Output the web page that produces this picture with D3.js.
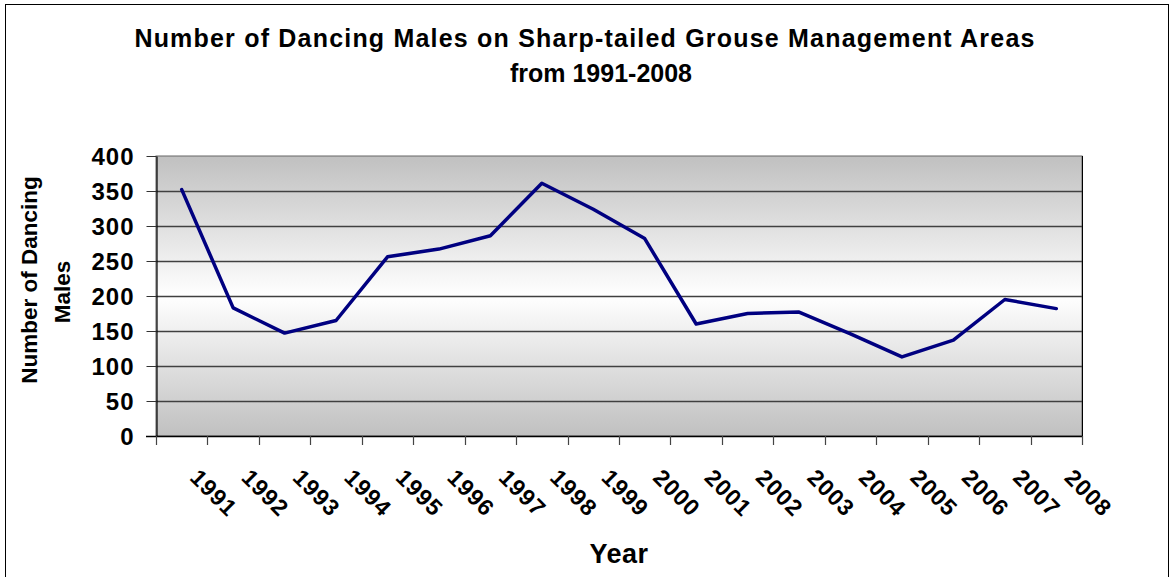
<!DOCTYPE html>
<html>
<head>
<meta charset="utf-8">
<script src="https://cdn.jsdelivr.net/npm/d3@7"></script>
<style>
  body { margin: 0; background: #fff; }
  svg { display: block; font-family: "Liberation Sans", Arial, sans-serif; }
</style>
</head>
<body>
<svg id="chart"></svg>
<script>
// data
const years = ["1991", "1992", "1993", "1994", "1995", "1996", "1997", "1998", "1999",
  "2000", "2001", "2002", "2003", "2004", "2005", "2006", "2007", "2008"];
const males = [352, 183, 147, 165, 256, 267, 286, 361, 324,
  282, 160, 175, 177, 146, 113, 137, 195, 182];
const yTicks = [0, 50, 100, 150, 200, 250, 300, 350, 400];
const titleLines = ["Number of Dancing Males on Sharp-tailed Grouse Management Areas", "from 1991-2008"];
const yTitleLines = ["Number of Dancing", "Males"];

const width = 1175, height = 577;
const marginTop = 156, marginRight = 93, marginBottom = 141, marginLeft = 156;

const svg = d3.select("#chart")
    .attr("width", width)
    .attr("height", height)
    .attr("viewBox", [0, 0, width, height]);

// outer chart border
svg.append("rect")
    .attr("x", 5.5).attr("y", 4.5)
    .attr("width", 1163).attr("height", 580)
    .attr("fill", "#fff")
    .attr("stroke", "#000")
    .attr("stroke-width", 1);

const x = d3.scaleBand()
    .domain(years)
    .range([marginLeft, width - marginRight]);
const y = d3.scaleLinear()
    .domain([0, 400])
    .range([height - marginBottom, marginTop]);

// plot area gradient
const grad = svg.append("defs").append("linearGradient")
    .attr("id", "bg").attr("x1", 0).attr("y1", 0).attr("x2", 0).attr("y2", 1);
grad.append("stop").attr("offset", 0).attr("stop-color", "#c0c0c0");
grad.append("stop").attr("offset", 0.5).attr("stop-color", "#ffffff");
grad.append("stop").attr("offset", 1).attr("stop-color", "#c0c0c0");

svg.append("rect")
    .attr("x", marginLeft).attr("y", marginTop)
    .attr("width", width - marginRight - marginLeft)
    .attr("height", height - marginBottom - marginTop)
    .attr("fill", "url(#bg)")
    .attr("stroke", "#666");

// gridlines
svg.append("g")
    .selectAll("line")
    .data(yTicks.slice(1, -1))
    .join("line")
      .attr("x1", marginLeft).attr("x2", width - marginRight)
      .attr("y1", d => Math.round(y(d)) + 0.5).attr("y2", d => Math.round(y(d)) + 0.5)
      .attr("stroke", "#404040")
      .attr("stroke-width", 1.3);

// right border
svg.append("line")
    .attr("x1", width - marginRight + 0.5).attr("x2", width - marginRight + 0.5)
    .attr("y1", marginTop).attr("y2", height - marginBottom)
    .attr("stroke", "#000");

// y axis
svg.append("g")
    .attr("transform", `translate(${marginLeft + 0.5},0)`)
    .call(d3.axisLeft(y).tickValues(yTicks).tickSize(10).tickSizeOuter(0).tickPadding(12))
    .call(g => g.select(".domain").attr("stroke", "#000").attr("stroke-width", 1.2))
    .call(g => g.selectAll(".tick line").attr("stroke", "#333"))
    .call(g => g.selectAll(".tick text")
        .attr("font-size", 24)
        .attr("font-weight", "bold")
        .attr("letter-spacing", 1)
        .attr("fill", "#000")
        .attr("dy", "0.36em"));

// x axis: ticks on band boundaries
const bounds = years.map(d => x(d)).concat([width - marginRight]);
const xAxisG = svg.append("g");
xAxisG.append("line")
    .attr("x1", marginLeft - 10).attr("x2", width - marginRight)
    .attr("y1", height - marginBottom + 0.5).attr("y2", height - marginBottom + 0.5)
    .attr("stroke", "#000").attr("stroke-width", 1.5);
xAxisG.selectAll("line.tk")
    .data(bounds)
    .join("line")
      .attr("class", "tk")
      .attr("x1", d => Math.round(d) + 0.5).attr("x2", d => Math.round(d) + 0.5)
      .attr("y1", height - marginBottom).attr("y2", height - marginBottom + 9)
      .attr("stroke", "#444")
      .attr("stroke-width", 1.2);
xAxisG.selectAll("text")
    .data(years)
    .join("text")
      .attr("transform", d => `translate(${x(d) + x.bandwidth() / 2 + 7},${height - marginBottom + 43}) rotate(45)`)
      .attr("font-size", 23)
      .attr("font-weight", "bold")
      .attr("letter-spacing", 1)
      .attr("fill", "#000")
      .text(d => d);

// line
const line = d3.line()
    .x((d, i) => x(years[i]) + x.bandwidth() / 2)
    .y(d => y(d));

svg.append("path")
    .datum(males)
    .attr("fill", "none")
    .attr("stroke", "#000080")
    .attr("stroke-width", 3.5)
    .attr("stroke-linejoin", "round")
    .attr("stroke-linecap", "round")
    .attr("d", line);

// titles
svg.append("g")
    .selectAll("text")
    .data(titleLines)
    .join("text")
      .attr("x", (d, i) => i === 0 ? 585 : 601)
      .attr("y", (d, i) => 47 + i * 35)
      .attr("text-anchor", "middle")
      .attr("font-size", 25)
      .attr("font-weight", "bold")
      .attr("letter-spacing", (d, i) => i === 0 ? 1.2 : 0)
      .attr("fill", "#000")
      .text(d => d);

svg.append("g")
    .selectAll("text")
    .data(yTitleLines)
    .join("text")
      .attr("transform", (d, i) => `translate(${37 + i * 33},${i === 0 ? 280 : 292}) rotate(-90)`)
      .attr("text-anchor", "middle")
      .attr("font-size", 22.5)
      .attr("font-weight", "bold")
      .attr("fill", "#000")
      .text(d => d);

svg.append("text")
    .attr("x", (marginLeft + width - marginRight) / 2)
    .attr("y", 563)
    .attr("text-anchor", "middle")
    .attr("font-size", 27)
    .attr("font-weight", "bold")
    .attr("letter-spacing", 0.5)
    .attr("fill", "#000")
    .text("Year");
</script>
</body>
</html>
